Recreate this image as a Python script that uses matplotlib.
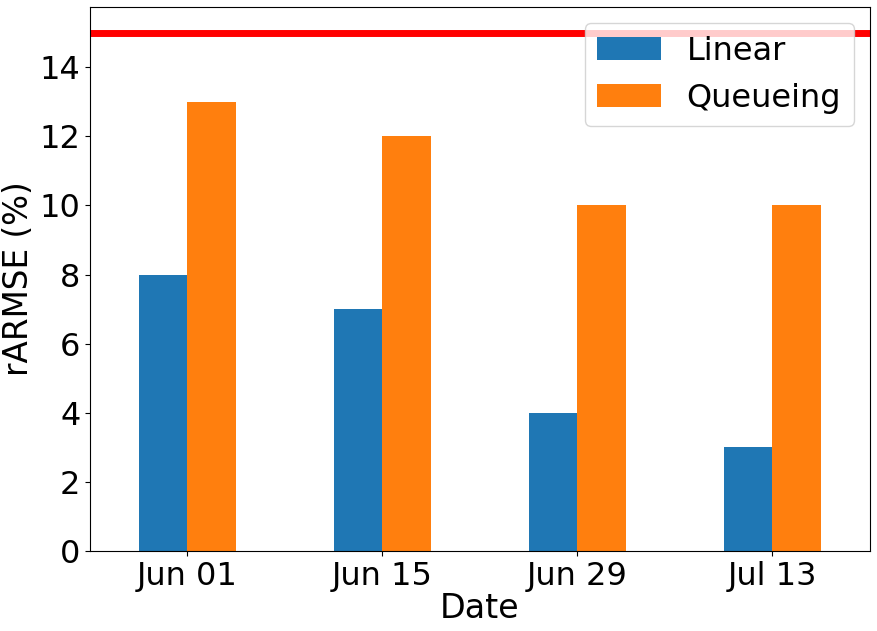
import matplotlib
matplotlib.use("Agg")
import matplotlib.pyplot as plt
import numpy as np

dates = ["Jun 01", "Jun 15", "Jun 29", "Jul 13"]
linear = [8, 7, 4, 3]
queueing = [13, 12, 10, 10]
threshold = 15

fig = plt.figure(figsize=(8.78, 6.31), dpi=100)
ax = fig.add_axes([90/878, 1-551/631, 780/878, 544/631])
x = np.arange(len(dates))
w = 0.25
ax.bar(x - w/2, linear, w, color="#1f77b4", label="Linear")
ax.bar(x + w/2, queueing, w, color="#ff7f0e", label="Queueing")
ax.axhline(threshold, color="red", linewidth=5)
ax.set_xlim(-0.5, 3.5)
ax.set_ylim(0, 15.74)
ax.set_xticks(x)
ax.set_xticklabels(dates)
ax.set_yticks(range(0, 15, 2))
ax.tick_params(labelsize=23)
ax.set_xlabel("Date", fontsize=24, labelpad=0)
ax.set_ylabel("rARMSE (%)", fontsize=23.5)
ax.yaxis.set_label_coords(-0.071, 0.5)
ax.legend(loc="upper right", fontsize=23)
fig.savefig("out.png", dpi=100)
